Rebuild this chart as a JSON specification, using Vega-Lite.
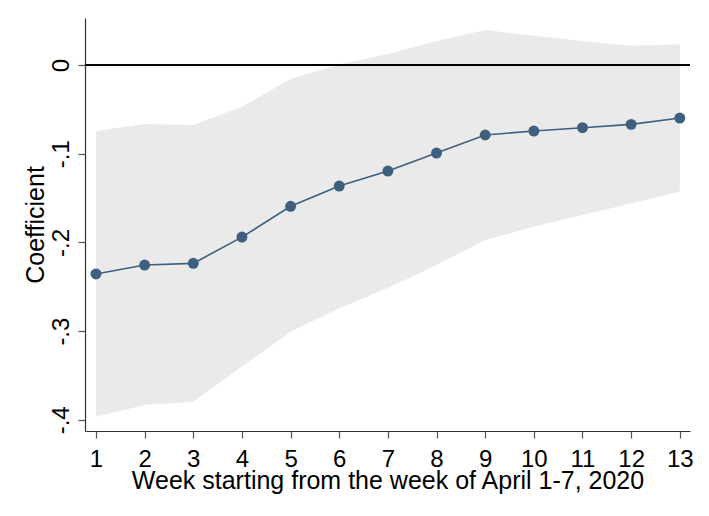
{
  "$schema": "https://vega.github.io/schema/vega-lite/v6.json",
  "autosize": "none",
  "width": 605,
  "height": 413,
  "padding": {"left": 85, "top": 18, "right": 19, "bottom": 85},
  "background": "white",
  "config": {
    "view": {"stroke": null},
    "font": "Liberation Sans",
    "axis": {
      "grid": false,
      "domainColor": "#333333",
      "domainWidth": 1.2,
      "tickColor": "#555555",
      "tickSize": 7,
      "tickWidth": 1.2,
      "labelColor": "black",
      "titleColor": "black",
      "labelFontSize": 24,
      "titleFontSize": 25,
      "titleFontWeight": "normal",
      "labelFont": "Liberation Sans",
      "titleFont": "Liberation Sans"
    }
  },
  "data": {
    "values": [
      {"week": 1, "coef": -0.2356, "lo": -0.3965, "hi": -0.0744},
      {"week": 2, "coef": -0.2255, "lo": -0.3833, "hi": -0.0665},
      {"week": 3, "coef": -0.2236, "lo": -0.3795, "hi": -0.0676},
      {"week": 4, "coef": -0.194, "lo": -0.340, "hi": -0.047},
      {"week": 5, "coef": -0.1593, "lo": -0.3006, "hi": -0.0158},
      {"week": 6, "coef": -0.1364, "lo": -0.2743, "hi": 0.0008},
      {"week": 7, "coef": -0.1195, "lo": -0.2514, "hi": 0.0125},
      {"week": 8, "coef": -0.0992, "lo": -0.2255, "hi": 0.027},
      {"week": 9, "coef": -0.0789, "lo": -0.1973, "hi": 0.0395},
      {"week": 10, "coef": -0.0744, "lo": -0.1823, "hi": 0.033},
      {"week": 11, "coef": -0.0707, "lo": -0.169, "hi": 0.027},
      {"week": 12, "coef": -0.0669, "lo": -0.156, "hi": 0.0218},
      {"week": 13, "coef": -0.0598, "lo": -0.1428, "hi": 0.0233}
    ]
  },
  "encoding": {
    "x": {
      "field": "week",
      "type": "quantitative",
      "scale": {"domain": [0.774, 13.21], "nice": false, "zero": false},
      "axis": {
        "values": [1, 2, 3, 4, 5, 6, 7, 8, 9, 10, 11, 12, 13],
        "format": "d",
        "title": "Week starting from the week of April 1-7, 2020",
        "labelPadding": 9,
        "labelBaseline": "top",
        "titleX": 302.5,
        "titleY": 57,
        "titleBaseline": "alphabetic",
        "titleAlign": "center"
      }
    }
  },
  "layer": [
    {
      "mark": {"type": "area", "color": "#EAEAEA", "opacity": 1},
      "encoding": {
        "y": {
          "field": "lo",
          "type": "quantitative",
          "scale": {"domain": [-0.4126, 0.053], "nice": false, "zero": false},
          "axis": {
            "values": [0, -0.1, -0.2, -0.3, -0.4],
            "labelExpr": "datum.value == 0 ? '0' : '-.' + round(-datum.value * 10)",
            "title": "Coefficient",
            "labelAngle": 270,
            "labelAlign": "center",
            "labelBaseline": "alphabetic",
            "labelPadding": 10,
            "titleAngle": 270,
            "titleAlign": "center",
            "titleBaseline": "alphabetic",
            "titleX": -42,
            "titleY": 206.5
          }
        },
        "y2": {"field": "hi"}
      }
    },
    {
      "mark": {"type": "rule", "color": "black", "strokeWidth": 1.5},
      "encoding": {"y": {"datum": 0, "type": "quantitative"}, "x": {"value": 0}, "x2": {"value": 605}}
    },
    {
      "mark": {"type": "line", "color": "#3E5F7E", "strokeWidth": 1.6},
      "encoding": {"y": {"field": "coef", "type": "quantitative"}}
    },
    {
      "mark": {"type": "point", "filled": true, "color": "#3E5F7E", "opacity": 1, "size": 120},
      "encoding": {"y": {"field": "coef", "type": "quantitative"}}
    }
  ]
}
